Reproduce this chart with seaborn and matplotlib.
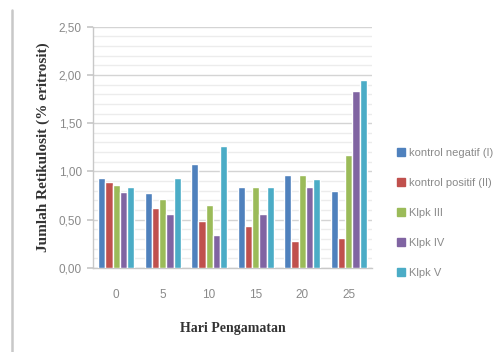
import matplotlib
matplotlib.use("Agg")
import matplotlib.pyplot as plt
import seaborn as sns
import pandas as pd
from matplotlib.ticker import MultipleLocator, FuncFormatter
from matplotlib.lines import Line2D

days = ["0", "5", "10", "15", "20", "25"]
groups = ["kontrol negatif (I)", "kontrol positif (II)", "Klpk III", "Klpk IV", "Klpk V"]
kontrol_negatif = [0.93, 0.78, 1.08, 0.84, 0.96, 0.80]
kontrol_positif = [0.89, 0.62, 0.49, 0.43, 0.28, 0.31]
klpk_iii = [0.86, 0.71, 0.65, 0.84, 0.96, 1.17]
klpk_iv = [0.79, 0.56, 0.34, 0.56, 0.84, 1.83]
klpk_v = [0.84, 0.93, 1.26, 0.84, 0.92, 1.95]
colors = ["#4F81BD", "#C0504D", "#9BBB59", "#8064A2", "#4BACC6"]

series = [kontrol_negatif, kontrol_positif, klpk_iii, klpk_iv, klpk_v]
rows = []
for g, vals in zip(groups, series):
    for d, v in zip(days, vals):
        rows.append({"Hari": d, "Kelompok": g, "Nilai": v})
df = pd.DataFrame(rows)

sns.set_theme(style="white")
plt.rcParams['font.family'] = ['Liberation Sans', 'DejaVu Sans']

fig = plt.figure(figsize=(5.02, 3.52), dpi=100)
ax = fig.add_axes([0.185, 0.239, 0.556, 0.685])

sns.barplot(data=df, x="Hari", y="Nilai", hue="Kelompok", order=days,
            hue_order=groups, palette=colors, width=0.78, gap=0,
            saturation=1, errorbar=None, ax=ax, zorder=3)

ax.set_ylim(0, 2.5)
ax.set_xlim(-0.5, 5.5)
ax.yaxis.set_major_locator(MultipleLocator(0.5))
ax.yaxis.set_minor_locator(MultipleLocator(0.1))
ax.yaxis.set_major_formatter(FuncFormatter(lambda v, p: f"{v:.2f}".replace(".", ",")))
ax.grid(which="major", axis="y", color="#d4d4d4", linewidth=1.0, zorder=0)
ax.grid(which="minor", axis="y", color="#ececec", linewidth=1.0, zorder=0)
ax.set_axisbelow(True)

for s in ["top", "right"]:
    ax.spines[s].set_visible(False)
for s in ["left", "bottom"]:
    ax.spines[s].set_color("#c8c8c8")
    ax.spines[s].set_linewidth(1.0)

ax.set_xticks([-0.5 + i for i in range(7)], minor=True)
ax.tick_params(axis="x", which="major", length=0, labelsize=8.5, labelcolor="#8a8a8a", pad=15)
ax.tick_params(axis="x", which="minor", length=4, color="#c8c8c8", width=1)
ax.tick_params(axis="y", which="major", length=4, color="#c8c8c8", labelsize=8.5, labelcolor="#8a8a8a", pad=4, left=True)
ax.tick_params(axis="y", which="minor", length=0)

ax.set_xlabel("Hari Pengamatan", family=["Liberation Serif", "DejaVu Serif"], fontsize=10,
              fontweight="bold", color="#333333", labelpad=15)
ax.set_ylabel("Jumlah Retikulosit (% eritrosit)", family=["Liberation Serif", "DejaVu Serif"],
              fontsize=11, fontweight="bold", color="#333333", labelpad=6)

ax.legend_.remove()
handles = [plt.Rectangle((0, 0), 1, 1, color=c) for c in colors]
fig.legend(handles, groups, loc="upper left", bbox_to_anchor=(0.78, 0.595),
           frameon=False, fontsize=8, labelcolor="#8a8a8a", handlelength=0.7,
           handleheight=0.7, handletextpad=0.4, labelspacing=1.8, borderpad=0)

fig.add_artist(Line2D([12 / 502, 12 / 502], [0, 1 - 10 / 352], color="#c8c8c8", linewidth=1.8))

fig.savefig("out.png", dpi=100)
